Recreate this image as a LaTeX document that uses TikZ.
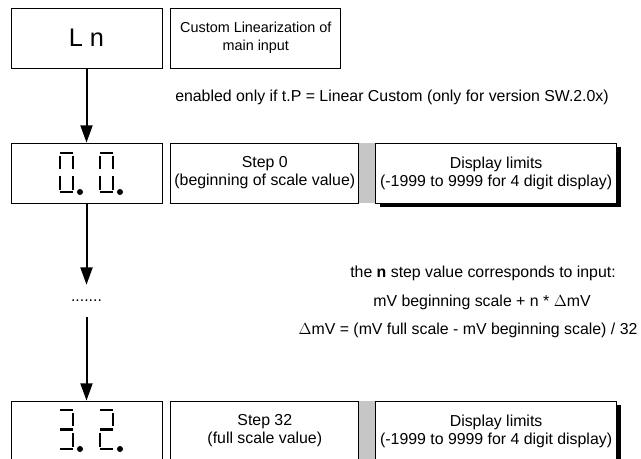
\documentclass[tikz,border=0pt]{standalone}
\usepackage{fontspec}
\setmainfont{Liberation Sans}
\usetikzlibrary{arrows.meta, positioning, shadows, backgrounds}

\begin{document}
\begin{tikzpicture}[
        x=0.75pt, y=-0.75pt,
        node distance=0pt and 6pt,
        box/.style={rectangle, draw=black, line width=0.6pt, fill=white, minimum height=45pt, inner sep=0pt, align=center, font=\fontsize{11.9}{13.6}\selectfont},
        dispbox/.style={box, minimum width=113.25pt, font=\fontsize{19}{22}\selectfont},
        stepbox/.style={box, minimum width=141pt},
        limbox/.style={box, minimum width=180.75pt, drop shadow={shadow xshift=3pt, shadow yshift=-3pt, fill=black, opacity=1}},
        note/.style={font=\fontsize{11.9}{13.6}\selectfont, inner sep=0pt},
        seg/.style={line width=2.2pt},
        arrow/.style={-{Triangle[length=13pt, width=9pt]}, line width=1.5pt}
    ]
    \useasboundingbox (0,0) rectangle (641,459);

    % Header
    \node[dispbox] (ln) at (86.5,38) {L n};
    \node[box, minimum width=127.5pt, font=\fontsize{10.8}{13.6}\selectfont, right=of ln] (custom) {Custom Linearization of\\main input};
    \node[note] (enabled) at (392,97) {enabled only if t.P = Linear Custom (only for version SW.2.0x)};

    % Step 0
    \node[dispbox] (d0) at (86.5,173) {};
    \node[stepbox, right=of d0] (s0) {Step 0\\(beginning of scale value)};
    \node[limbox, right=12pt of s0] (l0) {Display limits\\(-1999 to 9999 for 4 digit display)};

    % Step 32
    \node[dispbox] (d32) at (86.5,431) {};
    \node[stepbox, right=of d32] (s32) {Step 32\\(full scale value)};
    \node[limbox, right=12pt of s32] (l32) {Display limits\\(-1999 to 9999 for 4 digit display)};

    \begin{scope}[on background layer]
        \fill[gray!45] (s0.north east) rectangle (l0.south west);
        \fill[gray!45] (s32.north east) rectangle (l32.south west);
    \end{scope}

    % 7-segment digits "0. 0."
    \foreach \dx in {60,100} {
        \begin{scope}[shift={(\dx,153)}]
            \draw[seg] (0,0) -- (13,0) (0,3) -- (0,16) (13,3) -- (13,16)
                       (0,23) -- (0,37) (13,23) -- (13,37) (0,39) -- (13,39);
            \fill (20,39) circle[radius=3];
        \end{scope}
    }
    % 7-segment digits "3. 2."
    \begin{scope}[shift={(60,410)}]
        \draw[seg] (0,0) -- (13,0) (13,3) -- (13,16) (0,19.5) -- (13,19.5)
                   (13,23) -- (13,37) (0,39) -- (13,39);
        \fill (20,39) circle[radius=3];
    \end{scope}
    \begin{scope}[shift={(100,410)}]
        \draw[seg] (0,0) -- (13,0) (13,3) -- (13,16) (0,19.5) -- (13,19.5)
                   (0,23) -- (0,37) (0,39) -- (13,39);
        \fill (20,39) circle[radius=3];
    \end{scope}

    % Flow
    \node[note, minimum height=24pt] (dots) at (86.5,301) {.......};
    \draw[arrow] (ln) -- (d0);
    \draw[arrow] (d0) -- (dots);
    \draw[arrow] (dots) -- (d32);

    % Notes
    \node[note] (nstep) at (483,273) {the \textbf{n} step value corresponds to input:};
    \node[note] (formula) at (482,302) {mV beginning scale + n * {\large$\Delta$}mV};
    \node[note] (delta) at (468,330) {{\large$\Delta$}mV = (mV full scale - mV beginning scale) / 32};
\end{tikzpicture}
\end{document}
